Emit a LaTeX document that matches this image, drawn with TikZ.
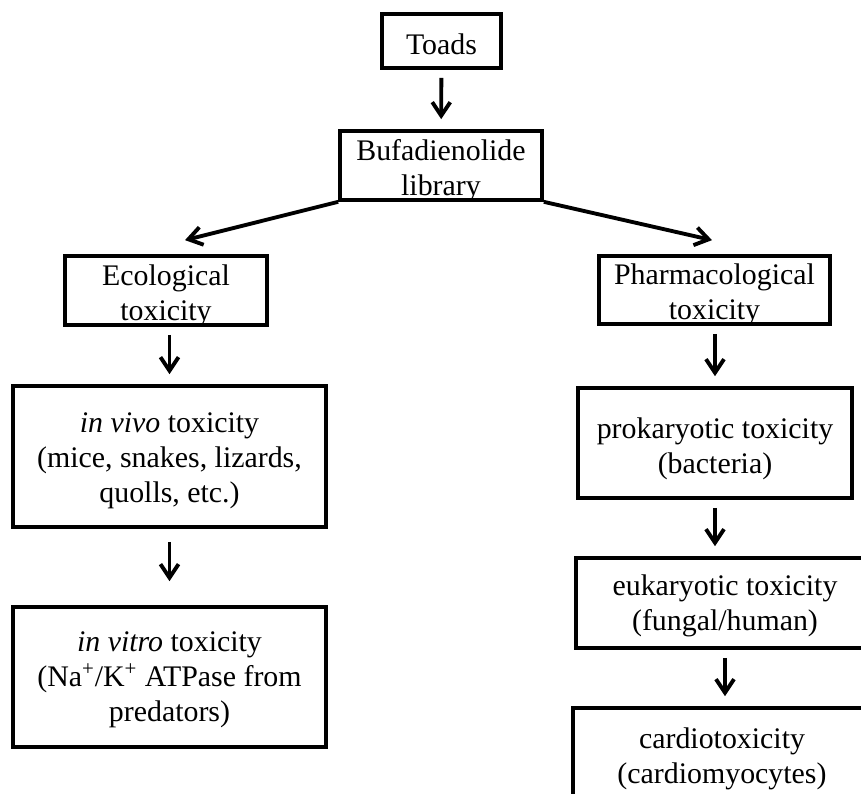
\documentclass[tikz,border=0pt]{standalone}
\usepackage{fontspec}
\setmainfont{Liberation Serif}
\usetikzlibrary{arrows.meta}

\begin{document}
\begin{tikzpicture}[
    box/.style={draw, line width=2.1pt, inner sep=0pt},
    txt/.style={font=\fontsize{17}{19.9}\selectfont, align=center},
    arr/.style={-{Straight Barb[length=0.27cm, width=0.36cm]}, line width=2.2pt},
    darr/.style={arr, shorten <=0.16cm, shorten >=0.2cm},
]
\useasboundingbox (0,0) rectangle (17.22,15.88);
\clip (0,0) rectangle (17.22,15.88);

\node[box, minimum width=2.38cm, minimum height=1.08cm,
      label={[txt, yshift=-0.056cm]center:Toads}] (toads) at (8.83,15.06) {};
\node[box, minimum width=4.04cm, minimum height=1.38cm,
      label={[txt, yshift=-0.11cm]center:Bufadienolide\\library}] (lib) at (8.82,12.57) {};

% ecological branch
\node[box, minimum width=4.04cm, minimum height=1.38cm,
      label={[txt, yshift=-0.10cm]center:Ecological\\toxicity}] (eco) at (3.32,10.07) {};
\node[box, minimum width=6.26cm, minimum height=2.82cm,
      label={[txt, yshift=-0.09cm]center:\textit{in vivo} toxicity\\(mice, snakes, lizards,\\quolls, etc.)}] (vivo) at (3.39,6.75) {};
\node[box, minimum width=6.26cm, minimum height=2.80cm,
      label={[txt, yshift=-0.05cm]center:\textit{in vitro} toxicity\\(Na\textsuperscript{+}/K\textsuperscript{+} ATPase from\\predators)}] (vitro) at (3.39,2.34) {};

% pharmacological branch
\node[box, minimum width=4.62cm, minimum height=1.36cm,
      label={[txt, yshift=-0.10cm]center:Pharmacological\\toxicity}] (pharm) at (14.29,10.08) {};
\node[box, minimum width=5.48cm, minimum height=2.20cm,
      label={[txt, yshift=-0.12cm]center:prokaryotic toxicity\\(bacteria)}] (prok) at (14.30,7.02) {};
\node[box, minimum width=5.96cm, minimum height=1.80cm,
      label={[txt, yshift=-0.06cm]center:eukaryotic toxicity\\(fungal/human)}] (euk) at (14.50,3.82) {};
\node[box, minimum width=5.96cm, minimum height=1.90cm,
      label={[txt, yshift=-0.06cm]center:cardiotoxicity\\(cardiomyocytes)}] (cardio) at (14.44,0.77) {};

\draw[darr] (toads) -- (lib);
\draw[arr] (lib.south west) -- ([xshift=0.38cm, yshift=0.28cm]eco.north);
\draw[arr] (lib.south east) -- ([xshift=-0.05cm, yshift=0.28cm]pharm.north);

\draw[darr] (vivo.north |- eco.south) -- (vivo.north);
\draw[darr, shorten <=0.26cm, shorten >=0.48cm] (vivo) -- (vitro);

\draw[darr] (prok.north |- pharm.south) -- (prok.north);
\draw[darr] (prok.south) -- (prok.south |- euk.north);
\draw[darr] (euk.south) -- (euk.south |- cardio.north);
\end{tikzpicture}
\end{document}
